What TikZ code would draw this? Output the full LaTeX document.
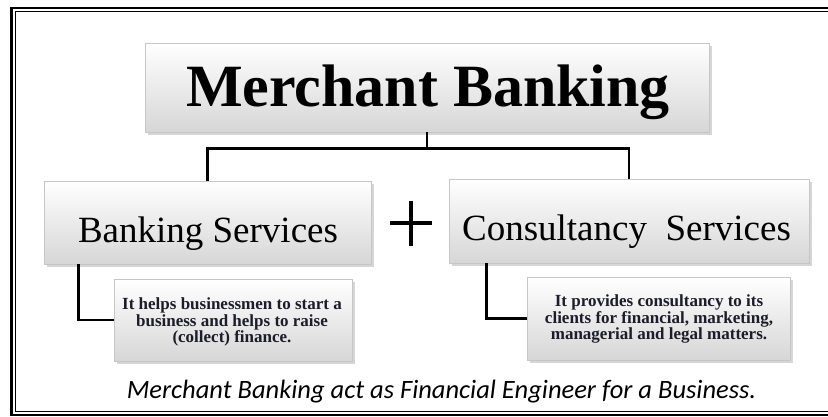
\documentclass[tikz,border=0pt]{standalone}
\usepackage{fontspec}
\setmainfont{Liberation Serif}
\newfontfamily\capfont{Carlito}
\usetikzlibrary{shadows}
\definecolor{subtext}{RGB}{28,28,42}
\tikzset{
  gbox/.style={rectangle, draw=gray!45, line width=0.6pt, top color=white, bottom color=gray!32,
    drop shadow={shadow xshift=2.5pt, shadow yshift=-2.5pt, opacity=0.45, fill=gray!70},
    inner sep=0pt},
  conn/.style={line width=2.6pt, black},
  subtxt/.style={font=\fontsize{17}{16.5}\selectfont\bfseries, text=subtext, align=center, inner sep=0pt},
  svctxt/.style={font=\fontsize{37}{37}\selectfont, anchor=base, inner sep=0pt},
}
\begin{document}
\begin{tikzpicture}[x=1pt,y=-1pt]
\useasboundingbox (0,0) rectangle (828,416);
\fill[white] (0,0) rectangle (828,416);
% frame
\draw[line width=2.4pt] (11.5,8) rectangle (900,414.8);
\draw[line width=1.1pt] (15.2,11.6) rectangle (895,411.2);
% boxes
\node[gbox, minimum width=564pt, minimum height=89pt] (title) at (427,87.5) {};
\node[gbox, minimum width=327pt, minimum height=83pt] (bank) at (207.5,222.5) {};
\node[gbox, minimum width=360pt, minimum height=84pt] (cons) at (629,221) {};
\node[gbox, minimum width=238pt, minimum height=82pt] (sub1) at (233,320) {};
\node[gbox, minimum width=263pt, minimum height=83pt] (sub2) at (658.5,318.5) {};
% texts
\node[anchor=base, inner sep=0pt, font=\fontsize{60}{60}\selectfont\bfseries] (ttext) at (428,106) {Merchant Banking};
\node[svctxt] (btext) at (208,242) {Banking Services};
\node[svctxt] (ctext) at (626.5,240) {Consultancy\ \ Services};
\node[subtxt] (s1text) at (232,322) {It helps businessmen to start a\\business and helps to raise\\(collect) finance.};
\node[subtxt] (s2text) at (659,319) {It provides consultancy to its\\clients for financial, marketing,\\managerial and legal matters.};
\node[anchor=base, inner sep=0pt, font=\capfont\itshape\fontsize{26.5}{26.5}\selectfont] (cap) at (441.5,398) {Merchant Banking act as Financial Engineer for a Business.};
% connectors
\draw[conn] (title.south) -- ++(0,16) coordinate (hub);
\draw[conn] (hub) -| (bank.north);
\draw[conn] (hub) -| (cons.north);
\draw[conn] ([xshift=35pt]bank.south west) |- (sub1.west);
\draw[conn] ([xshift=38pt]cons.south west) |- (sub2.west);
% plus sign
\coordinate (plus) at (411,223);
\draw[line width=4pt] ([xshift=-21pt]plus) -- ([xshift=21pt]plus);
\draw[line width=4pt] ([yshift=22pt]plus) -- ([yshift=-23pt]plus);
\end{tikzpicture}
\end{document}
